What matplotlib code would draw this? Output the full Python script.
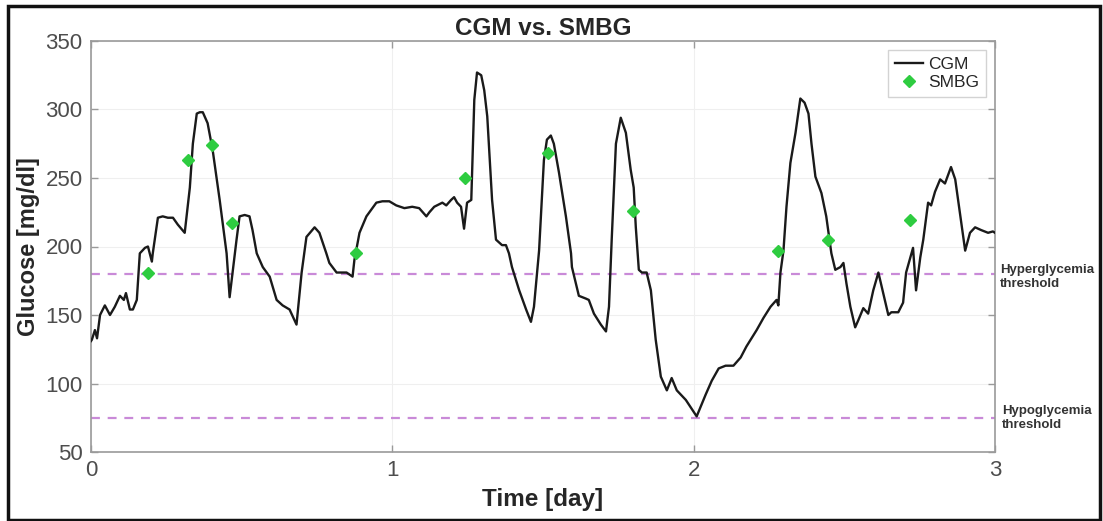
import matplotlib
matplotlib.use("Agg")
import matplotlib.pyplot as plt
from matplotlib.patches import Rectangle

plt.rcParams['font.family'] = ['Liberation Sans', 'DejaVu Sans']

# CGM trace (time in days, glucose in mg/dl)
cgm_t = [0.000, 0.003, 0.013, 0.020, 0.030, 0.046, 0.063, 0.079, 0.096, 0.109,
         0.116, 0.129, 0.139, 0.152, 0.162, 0.179, 0.189, 0.202, 0.205, 0.222,
         0.238, 0.255, 0.272, 0.288, 0.311, 0.328, 0.338, 0.351, 0.361, 0.371,
         0.387, 0.404, 0.427, 0.450, 0.460, 0.483, 0.493, 0.510, 0.526, 0.536,
         0.550, 0.570, 0.593, 0.616, 0.636, 0.659, 0.682, 0.699, 0.715, 0.742,
         0.758, 0.781, 0.791, 0.815, 0.848, 0.868, 0.874, 0.891, 0.914, 0.947,
         0.967, 0.990, 1.013, 1.040, 1.066, 1.089, 1.113, 1.123, 1.139, 1.166,
         1.179, 1.195, 1.205, 1.215, 1.228, 1.238, 1.248, 1.262, 1.272, 1.281,
         1.295, 1.305, 1.315, 1.331, 1.344, 1.364, 1.377, 1.387, 1.397, 1.421,
         1.444, 1.460, 1.470, 1.487, 1.503, 1.513, 1.526, 1.536, 1.553, 1.576,
         1.593, 1.596, 1.619, 1.642, 1.652, 1.669, 1.692, 1.709, 1.719, 1.728,
         1.742, 1.758, 1.775, 1.791, 1.801, 1.808, 1.818, 1.828, 1.844, 1.858,
         1.874, 1.891, 1.911, 1.927, 1.944, 1.974, 2.010, 2.040, 2.060, 2.083,
         2.106, 2.132, 2.156, 2.175, 2.192, 2.209, 2.232, 2.255, 2.275, 2.281,
         2.288, 2.298, 2.308, 2.321, 2.338, 2.354, 2.368, 2.381, 2.391, 2.404,
         2.424, 2.440, 2.457, 2.470, 2.487, 2.497, 2.507, 2.520, 2.536, 2.546,
         2.563, 2.579, 2.596, 2.613, 2.629, 2.646, 2.656, 2.679, 2.695, 2.705,
         2.728, 2.738, 2.752, 2.762, 2.778, 2.788, 2.801, 2.818, 2.834, 2.854,
         2.868, 2.884, 2.901, 2.917, 2.934, 2.954, 2.977, 2.993, 3.000]
cgm_g = [131, 132, 139, 133, 150, 157, 150, 156, 164, 161,
         166, 154, 154, 161, 195, 199, 200, 189, 195, 221,
         222, 221, 221, 216, 210, 243, 275, 297, 298, 298,
         290, 270, 234, 195, 163, 205, 222, 223, 222, 212,
         195, 185, 178, 161, 157, 154, 143, 181, 207, 214,
         210, 195, 188, 181, 181, 178, 190, 210, 222, 232,
         233, 233, 230, 228, 229, 228, 222, 225, 229, 232,
         230, 234, 236, 232, 229, 213, 232, 234, 307, 327,
         325, 314, 295, 234, 205, 201, 201, 195, 185, 168,
         154, 145, 156, 197, 263, 278, 281, 275, 254, 222,
         195, 185, 164, 162, 161, 151, 143, 138, 156, 205,
         275, 294, 283, 256, 243, 214, 183, 181, 181, 168,
         132, 105, 95, 104, 95, 88, 76, 92, 102, 111,
         113, 113, 119, 127, 133, 139, 148, 156, 161, 157,
         181, 197, 229, 261, 283, 308, 305, 297, 275, 251,
         239, 222, 195, 183, 185, 188, 173, 156, 141, 146,
         155, 151, 168, 181, 166, 150, 152, 152, 159, 181,
         199, 168, 192, 205, 232, 230, 240, 249, 246, 258,
         249, 224, 197, 210, 214, 212, 210, 211, 210]

# SMBG finger-stick readings
smbg_t = [0.189, 0.321, 0.401, 0.467, 0.878, 1.242, 1.517, 1.798, 2.281, 2.447, 2.719]
smbg_g = [181, 263, 274, 217, 195, 250, 268, 226, 197, 205, 219]

hyper_threshold = 180
hypo_threshold = 75
x_ticks = [0, 1, 2, 3]
y_ticks = [50, 100, 150, 200, 250, 300, 350]

W, H = 1103, 521
fig = plt.figure(figsize=(W / 100, H / 100), dpi=100)
fig.patch.set_facecolor('white')
ax = fig.add_axes([91 / W, 1 - 452 / H, (995 - 91) / W, (452 - 41) / H])

ax.plot(cgm_t, cgm_g, color='#1a1a1a', lw=1.7, label='CGM', zorder=3)
ax.plot(smbg_t, smbg_g, linestyle='none', marker='D', ms=6, color='#2ecc40',
        markeredgecolor='#2ecc40', label='SMBG', zorder=4)
ax.axhline(hyper_threshold, color='#c98ad8', ls=(0, (4, 3.5)), lw=1.6, zorder=2)
ax.axhline(hypo_threshold, color='#c98ad8', ls=(0, (4, 3.5)), lw=1.6, zorder=2)

ax.set_xlim(0, 3)
ax.set_ylim(50, 350)
ax.set_xticks(x_ticks)
ax.set_yticks(y_ticks)
ax.grid(True, color='#efefef', lw=0.8, zorder=0)
ax.tick_params(direction='in', length=5, width=1, color='#9a9a9a',
               labelcolor='#4d4d4d', labelsize=16, top=True, right=True, pad=6)
for s in ax.spines.values():
    s.set_color('#9a9a9a')
    s.set_linewidth(1.2)

ax.set_xlabel('Time [day]', fontsize=17.5, fontweight='bold', color='#262626', labelpad=5)
ax.set_ylabel('Glucose [mg/dl]', fontsize=17, fontweight='bold', color='#262626', labelpad=4)
ax.set_title('CGM vs. SMBG', fontsize=17.5, fontweight='bold', color='#262626', pad=4)

leg = ax.legend(loc='upper right', fontsize=12.5, frameon=True, fancybox=False,
                handlelength=1.6, handletextpad=0.3, borderpad=0.4,
                labelspacing=0.2, borderaxespad=0.5)
leg.get_frame().set_edgecolor('#c8c8c8')
leg.get_frame().set_linewidth(1.0)
for t in leg.get_texts():
    t.set_color('#262626')

fig.text(1000 / W, 1 - 277 / H, 'Hyperglycemia\nthreshold', fontsize=9.5, fontweight='bold',
         color='#333333', va='center', ha='left', linespacing=1.15)
fig.text(1002 / W, 1 - 418 / H, 'Hypoglycemia\nthreshold', fontsize=9.5, fontweight='bold',
         color='#333333', va='center', ha='left', linespacing=1.15)

fig.patches.append(Rectangle((8 / W, 1 / H), (1100 - 8) / W, (515 - 1) / H,
                             transform=fig.transFigure, fill=False,
                             edgecolor='#111111', lw=2.5))

fig.savefig('out.png', dpi=100)
